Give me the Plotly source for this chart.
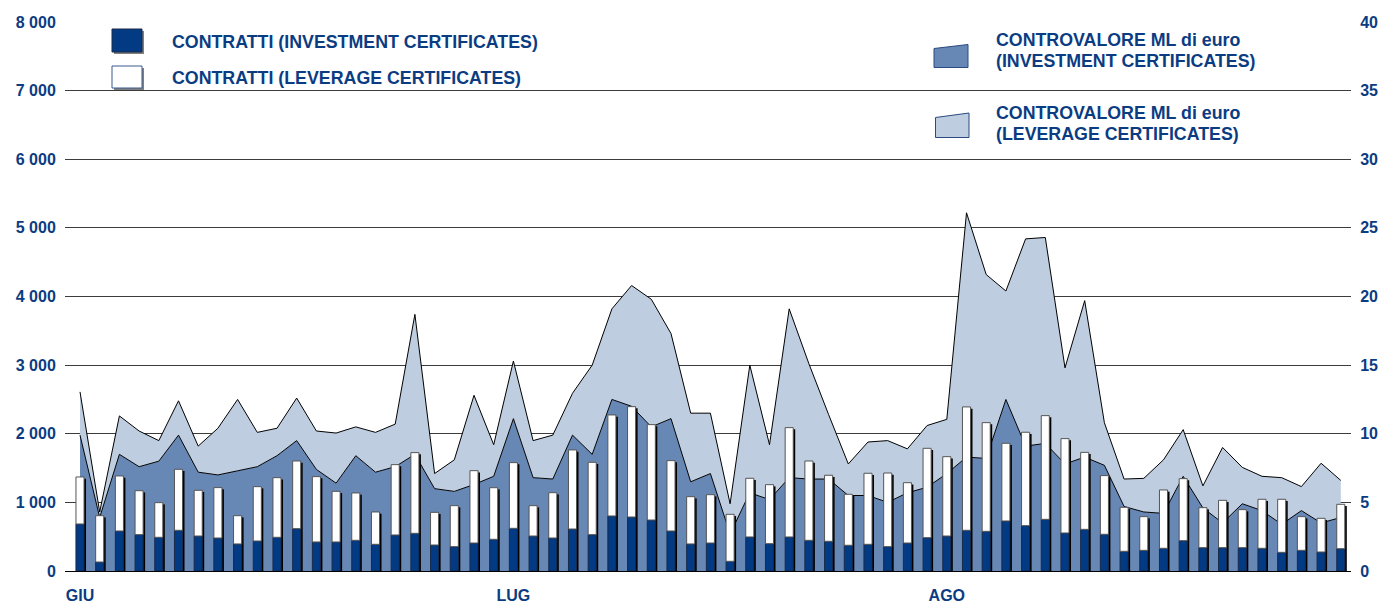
import plotly.graph_objects as go

# ---------------- data ----------------
days = list(range(65))                      # trading days Jun-Aug
month_ticks = [0, 22, 44]
month_labels = ["GIU", "LUG", "AGO"]

# number of contracts (left axis)
contracts_inv = [685, 131, 583, 530, 491, 593, 510, 481, 394, 437, 491, 617, 423, 423, 447, 389,
                 525, 549, 379, 355, 408, 462, 622, 510, 481, 612, 530, 802, 787, 743, 583, 394,
                 408, 141, 496, 398, 496, 447, 433, 375, 389, 355, 408, 486, 510, 593, 578, 729,
                 661, 753, 554, 607, 535, 287, 301, 331, 442, 340, 340, 340, 331, 272, 301, 277, 325]
contracts_lev = [685, 675, 802, 640, 505, 889, 666, 734, 412, 792, 869, 986, 952, 738, 690, 471,
                 1025, 1176, 476, 597, 1054, 752, 957, 442, 660, 1152, 1054, 1472, 1608, 1390, 1025, 689,
                 704, 685, 855, 860, 1593, 1156, 962, 743, 1035, 1073, 879, 1302, 1156, 1798, 1584, 1132,
                 1361, 1511, 1375, 1122, 855, 641, 491, 850, 904, 583, 690, 554, 714, 773, 491, 491, 647]

# traded value, million euro (right axis)
value_inv = [9.9, 3.9, 8.5, 7.6, 8.0, 9.9, 7.2, 7.0, 7.3, 7.6, 8.4, 9.5, 7.4, 6.4, 8.4, 7.2,
             7.6, 8.5, 6.0, 5.8, 6.3, 6.9, 11.1, 6.8, 6.7, 9.9, 8.5, 12.5, 12.0, 10.5, 11.1, 6.5,
             7.1, 2.7, 5.7, 5.2, 6.8, 6.7, 6.7, 5.5, 5.5, 5.0, 5.7, 6.1, 7.1, 8.3, 8.2, 12.5,
             9.1, 9.3, 7.8, 8.3, 7.7, 4.7, 4.3, 4.2, 6.9, 4.6, 3.5, 4.9, 4.4, 3.4, 4.4, 3.5, 3.9]
value_lev = [3.15, 0.4, 2.8, 2.6, 1.5, 2.5, 1.9, 3.4, 5.2, 2.5, 2.0, 3.1, 2.8, 3.65, 2.1, 2.9,
             3.1, 10.2, 1.1, 2.3, 6.5, 2.3, 4.2, 2.7, 3.2, 3.05, 6.5, 6.6, 8.8, 9.3, 6.2, 5.0,
             4.4, 2.2, 9.3, 4.0, 12.3, 8.4, 4.7, 2.3, 3.9, 4.5, 3.2, 4.5, 3.95, 17.8, 13.4, 7.9,
             15.1, 15.0, 7.0, 11.4, 3.1, 2.0, 2.45, 3.9, 3.4, 1.6, 5.5, 2.65, 2.5, 3.4, 1.75, 4.35, 2.7]

legend_names = ["CONTRATTI (INVESTMENT CERTIFICATES)",
                "CONTRATTI (LEVERAGE CERTIFICATES)",
                "CONTROVALORE ML di euro", "(INVESTMENT CERTIFICATES)",
                "CONTROVALORE ML di euro", "(LEVERAGE CERTIFICATES)"]

# ---------------- style ----------------
DARK = "#023A84"
MID = "#6787B5"
LIGHT = "#BECDE0"
TXT = "#0B3C82"
FONT = "Liberation Sans"

W, H = 1385, 603
ML, MR, MT, MB = 65, 34, 22, 32
PW, PH = W - ML - MR, H - MT - MB


def px(x):
    return (x - ML) / PW


def py(y):
    return (H - MB - y) / PH


fig = go.Figure()

# stacked areas (right axis -> primary y, drawn underneath)
fig.add_trace(go.Scatter(x=days, y=value_inv, yaxis="y", stackgroup="v", mode="lines",
                         line=dict(color="black", width=1), fillcolor=MID,
                         name=legend_names[2]))
fig.add_trace(go.Scatter(x=days, y=value_lev, yaxis="y", stackgroup="v", mode="lines",
                         line=dict(color="black", width=1), fillcolor=LIGHT,
                         name=legend_names[4]))

# bars (left axis -> y2 overlaying, drawn on top)
total = [a + b for a, b in zip(contracts_inv, contracts_lev)]
shadow = [t - 25 for t in total]
BW = 0.41
fig.add_trace(go.Bar(x=days, y=shadow, yaxis="y2", width=BW, offset=-BW / 2 + 0.1,
                     marker=dict(color="black", line=dict(width=0)), hoverinfo="skip",
                     showlegend=False))
fig.add_trace(go.Bar(x=days, y=contracts_inv, yaxis="y2", width=BW, offset=-BW / 2,
                     marker=dict(color=DARK, line=dict(color="#1a2a48", width=1)),
                     name=legend_names[0]))
fig.add_trace(go.Bar(x=days, y=contracts_lev, base=contracts_inv, yaxis="y2", width=BW,
                     offset=-BW / 2,
                     marker=dict(color="white", line=dict(color="#555555", width=1)),
                     name=legend_names[1]))

tickfont = dict(family=FONT, size=16, color=TXT, weight="bold")

fig.update_layout(
    width=W, height=H,
    margin=dict(l=ML, r=MR, t=MT, b=MB, autoexpand=False),
    paper_bgcolor="white", plot_bgcolor="white",
    showlegend=False, barmode="overlay",
    separators=", ",
    xaxis=dict(range=[-15 / 19.7, (W - MR - 80) / 19.7], tickmode="array",
               tickvals=month_ticks, ticktext=month_labels, tickfont=tickfont,
               showgrid=False, zeroline=False, showline=True, linecolor="black",
               linewidth=1, ticks="outside", ticklen=10, tickcolor="rgba(0,0,0,0)",
               automargin=False),
    yaxis=dict(range=[0, 40], dtick=5, side="right", showgrid=True,
               gridcolor="#3c3c3c", gridwidth=1, zeroline=False, showline=False,
               tickfont=tickfont, ticks="outside", ticklen=5,
               tickcolor="rgba(0,0,0,0)", automargin=False),
    yaxis2=dict(range=[0, 8000], dtick=1000, side="left", overlaying="y",
                tickformat=",d", showgrid=False, zeroline=False, showline=False,
                tickfont=tickfont, ticks="outside", ticklen=5,
                tickcolor="rgba(0,0,0,0)", automargin=False),
)

shapes = []
# legend: dark square with shadow
shapes.append(dict(type="rect", xref="paper", yref="paper",
                   x0=px(114), x1=px(144), y0=py(54), y1=py(31),
                   fillcolor="#808080", line=dict(width=0)))
shapes.append(dict(type="rect", xref="paper", yref="paper",
                   x0=px(112), x1=px(142), y0=py(52), y1=py(29),
                   fillcolor=DARK, line=dict(color="#1a2a48", width=1)))
# white square with shadow
shapes.append(dict(type="rect", xref="paper", yref="paper",
                   x0=px(114), x1=px(144), y0=py(90), y1=py(68),
                   fillcolor="#808080", line=dict(width=0)))
shapes.append(dict(type="rect", xref="paper", yref="paper",
                   x0=px(112), x1=px(142), y0=py(88), y1=py(66),
                   fillcolor="white", line=dict(color="#3a5a90", width=1)))


def trap(x0, x1, ytl, ytr, yb):
    return "M {} {} L {} {} L {} {} L {} {} Z".format(
        px(x0), py(yb), px(x0), py(ytl), px(x1), py(ytr), px(x1), py(yb))


# trapezoids for the area legend
shapes.append(dict(type="path", xref="paper", yref="paper",
                   path=trap(934, 968, 48.5, 44.5, 67.5), fillcolor=MID,
                   line=dict(color="#2a4a80", width=1)))
shapes.append(dict(type="path", xref="paper", yref="paper",
                   path=trap(935.5, 969, 117.5, 113, 137.5), fillcolor=LIGHT,
                   line=dict(color="#2a4a80", width=1)))
fig.update_layout(shapes=shapes)

legfont = dict(family=FONT, size=17.8, color=TXT, weight="bold")
ann = [(170, 42, legend_names[0]), (170, 78, legend_names[1]),
       (994, 40, legend_names[2]), (994, 61, legend_names[3]),
       (994, 113, legend_names[4]), (994, 134, legend_names[5])]
for x, y, t in ann:
    fig.add_annotation(text=t, xref="paper", yref="paper", x=px(x), y=py(y),
                       xanchor="left", yanchor="middle", showarrow=False,
                       font=legfont)

fig.write_html("out.html", config={"displayModeBar": False},
               post_script="document.body.style.margin='0';")
